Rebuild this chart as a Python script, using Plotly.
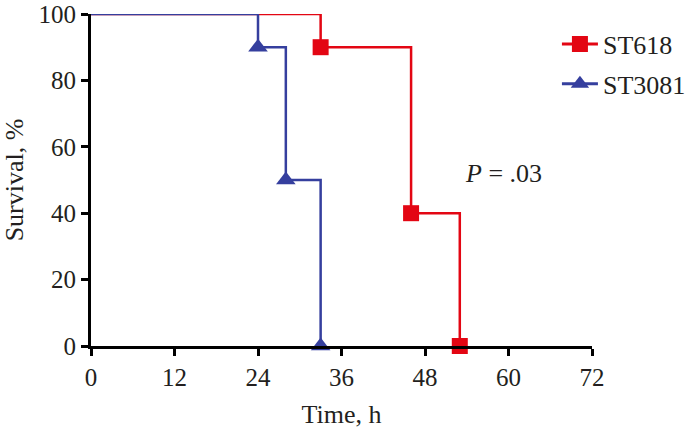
import plotly.graph_objects as go

# Data
st618_time = [0, 33, 46, 53]
st618_surv = [100, 90, 40, 0]
st3081_time = [0, 24, 28, 33]
st3081_surv = [100, 90, 50, 0]
x_ticks = [0, 12, 24, 36, 48, 60, 72]
y_ticks = [0, 20, 40, 60, 80, 100]
p_label = "<i>P</i> = .03"

RED = "#E30613"
BLUE = "#353F9E"
FONT = "Liberation Serif"
TXT = "#231F20"

fig = go.Figure()

fig.add_trace(go.Scatter(x=st618_time, y=st618_surv, mode="lines", line=dict(color=RED, width=2.5, shape="hv"),
                         showlegend=False, hoverinfo="skip"))
fig.add_trace(go.Scatter(x=st3081_time, y=st3081_surv, mode="lines", line=dict(color=BLUE, width=2.5, shape="hv"),
                         showlegend=False, hoverinfo="skip"))
fig.add_trace(go.Scatter(x=st618_time[1:], y=st618_surv[1:], mode="markers",
                         marker=dict(symbol="square", size=16, color=RED), showlegend=False, cliponaxis=False))
fig.add_trace(go.Scatter(x=st3081_time[1:], y=st3081_surv[1:], mode="markers",
                         marker=dict(symbol="triangle-up", size=17, color=BLUE), showlegend=False, cliponaxis=False))

# legend entries
fig.add_trace(go.Scatter(x=[None], y=[None], mode="lines+markers", name="ST618", legendgroup="a",
                         line=dict(color=RED, width=3), marker=dict(symbol="square", size=16, color=RED)))
fig.add_trace(go.Scatter(x=[None], y=[None], mode="lines+markers", name="ST3081", legendgroup="b",
                         line=dict(color=BLUE, width=3), marker=dict(symbol="triangle-up", size=16, color=BLUE)))

fig.add_annotation(x=53.5, y=52, text=p_label, showarrow=False, xanchor="left", yanchor="middle",
                   font=dict(family=FONT, size=26, color=TXT))

axis_common = dict(showgrid=False, zeroline=False, showline=True, linecolor="black", linewidth=3,
                   ticks="outside", ticklen=7, tickwidth=3, tickcolor="black", automargin=False,
                   tickfont=dict(family=FONT, size=25, color=TXT))

fig.update_xaxes(range=[0, 72], tickvals=x_ticks,
                 title=dict(text="Time, h", font=dict(family=FONT, size=26, color=TXT)), **axis_common)
fig.update_yaxes(range=[0, 100], tickvals=y_ticks,
                 title=dict(text="Survival, %", font=dict(family=FONT, size=26, color=TXT)), **axis_common)

fig.update_layout(
    width=693, height=429,
    margin=dict(l=91, r=101, t=14, b=83, autoexpand=False),
    plot_bgcolor="white", paper_bgcolor="white",
    legend=dict(x=0.93, y=0.98, xanchor="left", yanchor="top", font=dict(family=FONT, size=26, color=TXT),
                bgcolor="rgba(0,0,0,0)", itemwidth=36, tracegroupgap=3),
    font=dict(family=FONT, color=TXT),
)

fig.write_html("out.html", config={"displayModeBar": False},
               post_script="document.body.style.margin='0';document.body.style.overflow='hidden';")
